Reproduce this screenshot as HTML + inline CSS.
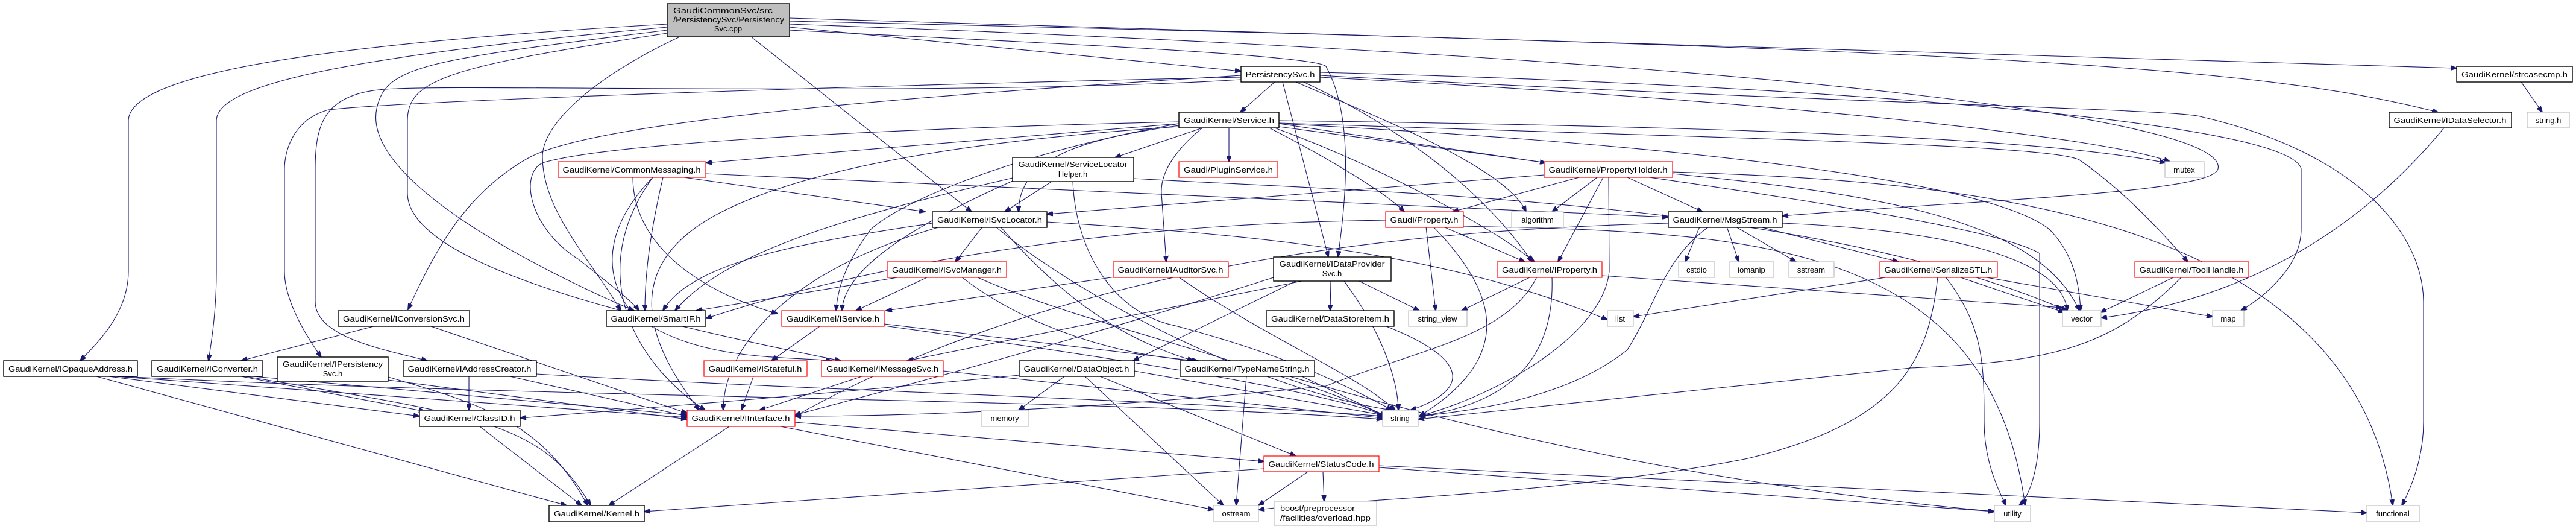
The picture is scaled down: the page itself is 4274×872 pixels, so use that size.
<!DOCTYPE html>
<html><head><meta charset="utf-8"><style>
html,body{margin:0;padding:0;background:#fff;}
svg{display:block;}
text{font-family:"Liberation Sans","DejaVu Sans",sans-serif;font-size:13px;fill:#000;}
.e{fill:none;stroke:#191970;stroke-width:1.1;marker-end:url(#a);}
.b{fill:#fff;stroke:#000;stroke-width:1.4;}
.r{fill:#fff;stroke:#ff0000;stroke-width:1.2;}
.g{fill:#fff;stroke:#bfbfbf;stroke-width:1.2;}
.m{fill:#bfbfbf;stroke:#000;stroke-width:1.4;}
</style></head><body>
<svg width="4274" height="872" viewBox="0 0 4274 872" xmlns="http://www.w3.org/2000/svg">
<defs><marker id="a" markerWidth="11" markerHeight="8" refX="10" refY="4" orient="auto" markerUnits="userSpaceOnUse"><path d="M0,0 L11,4 L0,8 z" fill="#191970" stroke="#191970"/></marker></defs>
<g>
<!-- main edges -->
<path class="e" d="M1107,40 C400,80 214,140 213,200 L213,450 C213,520 160,570 133,598"/>
<path class="e" d="M1107,45 C500,100 360,150 359,200 L359,450 C359,520 350,570 346,598"/>
<path class="e" d="M1245,60 L1612,351"/>
<path class="e" d="M1310,45 L2059,118"/>
<path class="e" d="M1107,50 C700,100 640,110 625,180 C600,300 900,450 1052,515"/>
<path class="e" d="M1107,55 C750,110 676,130 676,200 L676,320 C676,430 1000,520 1395,598"/>
<path class="e" d="M1310,50 C1700,70 2180,90 2200,110 C2250,200 2230,350 2220,426"/>
<path class="e" d="M1310,30 C2500,60 3500,90 4076,113"/>
<path class="e" d="M1310,35 C3300,80 3750,110 4045,186"/>
<path class="e" d="M1310,40 C3000,100 3700,200 3680,280 C3670,320 3300,330 2957,358"/>
<path class="e" d="M1130,60 C1000,120 900,200 900,260 C900,350 980,430 1030,515"/>
<!-- PersistencySvc -->
<path class="e" d="M2059,125 C1500,160 1000,200 880,260 C770,320 720,420 677,513"/>
<path class="e" d="M2059,128 C1500,140 700,165 545,182 C480,200 472,260 472,280 L472,450 C472,500 510,560 533,592"/>
<path class="e" d="M2059,132 C1600,160 800,140 658,147 C540,150 523,200 523,280 L523,500 C523,560 640,580 709,598"/>
<path class="e" d="M2115,136 L2058,186"/>
<path class="e" d="M2128,136 L2204,426"/>
<path class="e" d="M2163,136 C2300,200 2450,300 2542,434"/>
<path class="e" d="M2150,136 C2300,200 2500,280 2532,351"/>
<path class="e" d="M2190,120 C3000,140 3800,200 3818,280 L3818,380 C3818,440 3760,490 3718,515"/>
<path class="e" d="M2190,125 C3000,170 3600,180 3650,193 C3900,250 4020,380 4021,500 L4021,700 C4021,760 4000,810 3985,838"/>
<path class="e" d="M2190,128 C3000,170 3500,230 3600,268"/>
<!-- Service -->
<path class="e" d="M1956,205 L1171,270"/>
<path class="e" d="M1995,212 L1850,261"/>
<path class="e" d="M2039,212 L2039,268"/>
<path class="e" d="M2122,205 L2565,270"/>
<path class="e" d="M2106,212 C2200,260 2300,320 2330,351"/>
<path class="e" d="M2115,212 C2300,280 2480,380 2546,434"/>
<path class="e" d="M1956,208 C1800,230 1690,260 1690,351"/>
<path class="e" d="M1995,212 C1960,240 1925,280 1927,320 L1935,434"/>
<path class="e" d="M1956,205 C1700,250 1500,330 1445,380 C1400,440 1390,480 1387,515"/>
<path class="e" d="M1956,202 C1400,215 1000,240 900,270 C860,290 880,380 960,430 C1010,470 1050,500 1060,515"/>
<path class="e" d="M2122,200 C2900,210 3400,230 3593,270"/>
<path class="e" d="M2122,205 C2800,240 3300,300 3400,380 C3440,420 3450,470 3452,515"/>
<path class="e" d="M2122,204 C2900,230 3400,240 3450,265 C3530,320 3600,400 3630,434"/>
<path class="e" d="M2122,210 C2800,300 3300,370 3384,420 L3384,700 C3384,770 3370,820 3350,838"/>
<path class="e" d="M1956,210 C1500,240 1300,300 1200,350 C1000,450 1100,600 1160,680"/>
<!-- CommonMessaging -->
<path class="e" d="M1135,294 L1535,351"/>
<path class="e" d="M1100,294 C1080,380 1070,450 1070,515"/>
<path class="e" d="M1171,288 L2768,360"/>
<path class="e" d="M1083,294 C1000,380 1000,460 1050,520 C1150,600 1300,590 1380,598"/>
<path class="e" d="M1083,294 C970,450 1050,600 1170,680"/>
<path class="e" d="M1050,294 C1050,400 1150,480 1290,520"/>
<!-- ServiceLocatorHelper -->
<path class="e" d="M1745,301 L1667,351"/>
<path class="e" d="M1680,295 C1400,360 1200,420 1120,515"/>
<path class="e" d="M1680,300 C1500,380 1400,450 1397,515"/>
<path class="e" d="M1780,301 C1785,420 1850,520 1950,540 C2100,580 2200,620 2310,680"/>
<path class="e" d="M1881,296 C2300,320 3000,330 3430,515"/>
<!-- ISvcLocator -->
<path class="e" d="M1630,376 L1585,434"/>
<path class="e" d="M1547,370 C1350,400 1150,430 1100,515"/>
<path class="e" d="M1660,376 C1750,480 1850,560 1980,598"/>
<path class="e" d="M1652,376 C1800,500 2100,650 2310,680"/>
<path class="e" d="M1560,376 C1300,450 1200,580 1200,680"/>
<path class="e" d="M1737,368 C2100,390 2400,420 2667,530"/>
<!-- ISvcManager / IAuditorSvc -->
<path class="e" d="M1540,459 L1420,515"/>
<path class="e" d="M1495,459 L1155,515"/>
<path class="e" d="M1595,459 C1700,540 1850,590 1988,598"/>
<path class="e" d="M1620,459 C1800,540 2100,600 2300,690"/>
<path class="e" d="M1850,459 L1470,515"/>
<path class="e" d="M1955,459 C2100,560 2250,620 2315,680"/>
<!-- IService etc -->
<path class="e" d="M1360,541 L1280,598"/>
<path class="e" d="M1467,537 L1980,598"/>
<path class="e" d="M1467,540 C1900,600 2200,650 2300,690"/>
<path class="e" d="M1250,624 L1230,680"/>
<path class="e" d="M1430,624 L1260,680"/>
<path class="e" d="M1565,615 C1900,650 2100,670 2294,693"/>
<path class="e" d="M1691,622 C1300,660 900,690 863,693"/>
<path class="e" d="M1766,624 L1690,680"/>
<path class="e" d="M1825,624 L2150,756"/>
<path class="e" d="M1800,624 L2030,838"/>
<path class="e" d="M1882,615 L2294,688"/>
<path class="e" d="M2160,624 L2300,690"/>
<path class="e" d="M2068,624 L2051,838"/>
<path class="e" d="M2140,624 C2600,760 3000,820 3309,848"/>
<path class="e" d="M1319,700 L2097,765"/>
<path class="e" d="M1210,707 L1010,838"/>
<path class="e" d="M1295,707 L2014,845"/>
<path class="e" d="M2097,777 L1069,848"/>
<path class="e" d="M2170,782 L2088,838"/>
<path class="e" d="M2195,782 L2197,831"/>
<path class="e" d="M2288,775 L3309,848"/>
<path class="e" d="M2288,772 L3927,850"/>
<path class="e" d="M796,707 L965,838"/>
<path class="e" d="M160,624 L940,838"/>
<path class="e" d="M180,624 L696,690"/>
<path class="e" d="M190,624 L1140,692"/>
<path class="e" d="M200,624 C900,660 1800,660 2294,695"/>
<path class="e" d="M400,624 L705,682"/>
<path class="e" d="M407,624 C800,690 900,700 980,838"/>
<path class="e" d="M420,624 L1140,688"/>
<path class="e" d="M644,630 L1140,695"/>
<path class="e" d="M644,625 C800,670 900,700 975,838"/>
<path class="e" d="M778,624 L778,680"/>
<path class="e" d="M846,624 L1140,690"/>
<path class="e" d="M890,620 C1400,650 1900,660 2294,690"/>
<path class="e" d="M620,541 L400,598"/>
<path class="e" d="M715,541 L1140,685"/>
<!-- Property, PropertyHolder, MsgStream -->
<path class="e" d="M2366,376 L2382,515"/>
<path class="e" d="M2395,376 L2530,434"/>
<path class="e" d="M2378,376 C2500,500 2500,600 2355,690"/>
<path class="e" d="M2299,365 C1900,370 1500,420 1171,528"/>
<path class="e" d="M2428,375 C2900,385 3300,395 3360,838"/>
<path class="e" d="M2620,294 L2410,351"/>
<path class="e" d="M2650,294 L2575,351"/>
<path class="e" d="M2660,294 L2585,434"/>
<path class="e" d="M2700,294 L2825,351"/>
<path class="e" d="M2562,290 L1737,355"/>
<path class="e" d="M2669,294 L2670,450 C2660,550 2500,650 2355,690"/>
<path class="e" d="M2775,288 C3100,320 3380,360 3450,515"/>
<path class="e" d="M2775,285 C3200,300 3900,330 3970,838"/>
<path class="e" d="M2835,376 C2760,430 2750,500 2700,580 C2600,660 2450,680 2355,690"/>
<path class="e" d="M2820,376 L2796,434"/>
<path class="e" d="M2865,376 L2885,434"/>
<path class="e" d="M2880,376 L2980,434"/>
<path class="e" d="M2920,376 L3150,434"/>
<path class="e" d="M2768,370 C2400,380 1800,420 1319,690"/>
<path class="e" d="M2957,370 C3200,380 3420,420 3430,515"/>
<path class="e" d="M2540,459 L2425,515"/>
<path class="e" d="M2575,459 C2580,600 2500,670 2355,690"/>
<path class="e" d="M2550,459 C2500,560 2350,580 2200,640 C1800,680 1500,690 1319,690"/>
<path class="e" d="M2658,457 L3422,510"/>
<path class="e" d="M3135,459 L2710,525"/>
<path class="e" d="M3250,459 L3425,518"/>
<path class="e" d="M3290,459 L3671,525"/>
<path class="e" d="M3228,459 C3290,540 3292,600 3292,700 C3292,770 3320,820 3328,838"/>
<path class="e" d="M3215,459 C3200,600 3150,700 2900,760 C2600,820 2200,830 2088,845"/>
<path class="e" d="M3608,459 L3485,518"/>
<path class="e" d="M3620,459 C3500,580 3400,600 3170,610 L2353,695"/>
<path class="e" d="M4055,212 C3900,400 3700,500 3486,527"/>
<path class="e" d="M4183,136 L4218,186"/>
<path class="e" d="M2208,466 L2207,515"/>
<path class="e" d="M2255,466 L2355,515"/>
<path class="e" d="M2230,466 C2300,560 2320,640 2320,680"/>
<path class="e" d="M2150,466 L1880,598"/>
<path class="e" d="M2160,466 L1505,598"/>
<path class="e" d="M2113,460 C1800,560 1500,640 1319,688"/>
<path class="e" d="M2300,541 C2450,600 2430,650 2340,680"/>
</g>
<g>
<rect class="m" x="1107" y="6" width="203" height="55"/>
<text x="1117" y="22" textLength="165" lengthAdjust="spacingAndGlyphs">GaudiCommonSvc/src</text>
<text x="1117" y="37" textLength="184" lengthAdjust="spacingAndGlyphs">/PersistencySvc/Persistency</text>
<text x="1208" y="52" text-anchor="middle">Svc.cpp</text>
</g>
<g text-anchor="middle">
<rect class="b" x="2059" y="110" width="131" height="26"/><text x="2124" y="128" textLength="115" lengthAdjust="spacingAndGlyphs">PersistencySvc.h</text>
<rect class="b" x="1956" y="186" width="166" height="26"/><text x="2039" y="204" textLength="150" lengthAdjust="spacingAndGlyphs">GaudiKernel/Service.h</text>
<rect class="r" x="926" y="268" width="245" height="26"/><text x="1048" y="286" textLength="229" lengthAdjust="spacingAndGlyphs">GaudiKernel/CommonMessaging.h</text>
<rect class="b" x="1680" y="261" width="201" height="40"/><text x="1780" y="277" textLength="181" lengthAdjust="spacingAndGlyphs">GaudiKernel/ServiceLocator</text><text x="1780" y="293">Helper.h</text>
<rect class="r" x="1956" y="268" width="164" height="26"/><text x="2038" y="286" textLength="148" lengthAdjust="spacingAndGlyphs">Gaudi/PluginService.h</text>
<rect class="r" x="2562" y="268" width="213" height="26"/><text x="2668" y="286" textLength="197" lengthAdjust="spacingAndGlyphs">GaudiKernel/PropertyHolder.h</text>
<rect class="g" x="3592" y="268" width="65" height="26"/><text x="3624" y="286">mutex</text>
<rect class="b" x="1547" y="351" width="190" height="26"/><text x="1642" y="369" textLength="174" lengthAdjust="spacingAndGlyphs">GaudiKernel/ISvcLocator.h</text>
<rect class="r" x="2299" y="351" width="129" height="26"/><text x="2363" y="369" textLength="113" lengthAdjust="spacingAndGlyphs">Gaudi/Property.h</text>
<rect class="g" x="2508" y="351" width="86" height="26"/><text x="2551" y="369">algorithm</text>
<rect class="b" x="2768" y="351" width="189" height="26"/><text x="2862" y="369" textLength="173" lengthAdjust="spacingAndGlyphs">GaudiKernel/MsgStream.h</text>
<rect class="r" x="1472" y="434" width="198" height="26"/><text x="1571" y="452" textLength="182" lengthAdjust="spacingAndGlyphs">GaudiKernel/ISvcManager.h</text>
<rect class="r" x="1847" y="434" width="191" height="26"/><text x="1942" y="452" textLength="175" lengthAdjust="spacingAndGlyphs">GaudiKernel/IAuditorSvc.h</text>
<rect class="b" x="2113" y="426" width="195" height="40"/><text x="2210" y="442" textLength="175" lengthAdjust="spacingAndGlyphs">GaudiKernel/IDataProvider</text><text x="2210" y="458">Svc.h</text>
<rect class="r" x="2484" y="434" width="174" height="26"/><text x="2571" y="452" textLength="158" lengthAdjust="spacingAndGlyphs">GaudiKernel/IProperty.h</text>
<rect class="g" x="2785" y="434" width="60" height="26"/><text x="2815" y="452">cstdio</text>
<rect class="g" x="2870" y="434" width="73" height="26"/><text x="2906" y="452">iomanip</text>
<rect class="g" x="2968" y="434" width="75" height="26"/><text x="3005" y="452">sstream</text>
<rect class="r" x="3119" y="434" width="195" height="26"/><text x="3216" y="452" textLength="179" lengthAdjust="spacingAndGlyphs">GaudiKernel/SerializeSTL.h</text>
<rect class="r" x="3542" y="434" width="189" height="26"/><text x="3636" y="452" textLength="173" lengthAdjust="spacingAndGlyphs">GaudiKernel/ToolHandle.h</text>
<rect class="b" x="561" y="515" width="218" height="26"/><text x="670" y="533" textLength="202" lengthAdjust="spacingAndGlyphs">GaudiKernel/IConversionSvc.h</text>
<rect class="b" x="1006" y="515" width="165" height="26"/><text x="1088" y="533" textLength="149" lengthAdjust="spacingAndGlyphs">GaudiKernel/SmartIF.h</text>
<rect class="r" x="1297" y="515" width="170" height="26"/><text x="1382" y="533" textLength="154" lengthAdjust="spacingAndGlyphs">GaudiKernel/IService.h</text>
<rect class="b" x="2101" y="515" width="212" height="26"/><text x="2207" y="533" textLength="196" lengthAdjust="spacingAndGlyphs">GaudiKernel/DataStoreItem.h</text>
<rect class="g" x="2337" y="515" width="97" height="26"/><text x="2385" y="533">string_view</text>
<rect class="g" x="2667" y="515" width="43" height="26"/><text x="2688" y="533">list</text>
<rect class="g" x="3422" y="515" width="64" height="26"/><text x="3454" y="533">vector</text>
<rect class="g" x="3671" y="515" width="52" height="26"/><text x="3697" y="533">map</text>
<rect class="b" x="6" y="598" width="222" height="26"/><text x="117" y="616" textLength="206" lengthAdjust="spacingAndGlyphs">GaudiKernel/IOpaqueAddress.h</text>
<rect class="b" x="252" y="598" width="184" height="26"/><text x="344" y="616" textLength="168" lengthAdjust="spacingAndGlyphs">GaudiKernel/IConverter.h</text>
<rect class="b" x="460" y="592" width="184" height="40"/><text x="552" y="608" textLength="166" lengthAdjust="spacingAndGlyphs">GaudiKernel/IPersistency</text><text x="552" y="624">Svc.h</text>
<rect class="b" x="669" y="598" width="221" height="26"/><text x="779" y="616" textLength="205" lengthAdjust="spacingAndGlyphs">GaudiKernel/IAddressCreator.h</text>
<rect class="r" x="1168" y="598" width="171" height="26"/><text x="1253" y="616" textLength="155" lengthAdjust="spacingAndGlyphs">GaudiKernel/IStateful.h</text>
<rect class="r" x="1363" y="598" width="202" height="26"/><text x="1464" y="616" textLength="186" lengthAdjust="spacingAndGlyphs">GaudiKernel/IMessageSvc.h</text>
<rect class="b" x="1691" y="598" width="191" height="26"/><text x="1786" y="616" textLength="175" lengthAdjust="spacingAndGlyphs">GaudiKernel/DataObject.h</text>
<rect class="b" x="1958" y="598" width="223" height="26"/><text x="2069" y="616" textLength="207" lengthAdjust="spacingAndGlyphs">GaudiKernel/TypeNameString.h</text>
<rect class="b" x="696" y="680" width="167" height="27"/><text x="779" y="698" textLength="151" lengthAdjust="spacingAndGlyphs">GaudiKernel/ClassID.h</text>
<rect class="r" x="1140" y="680" width="179" height="27"/><text x="1229" y="698" textLength="163" lengthAdjust="spacingAndGlyphs">GaudiKernel/IInterface.h</text>
<rect class="g" x="1628" y="680" width="79" height="27"/><text x="1667" y="698">memory</text>
<rect class="g" x="2294" y="680" width="59" height="27"/><text x="2323" y="698">string</text>
<rect class="r" x="2097" y="756" width="191" height="26"/><text x="2192" y="774" textLength="175" lengthAdjust="spacingAndGlyphs">GaudiKernel/StatusCode.h</text>
<rect class="b" x="911" y="838" width="158" height="27"/><text x="990" y="856" textLength="142" lengthAdjust="spacingAndGlyphs">GaudiKernel/Kernel.h</text>
<rect class="g" x="2014" y="838" width="74" height="27"/><text x="2051" y="856">ostream</text>
<rect class="g" x="3309" y="838" width="60" height="27"/><text x="3339" y="856">utility</text>
<rect class="g" x="3927" y="838" width="87" height="27"/><text x="3970" y="856">functional</text>
<rect class="b" x="4076" y="110" width="192" height="26"/><text x="4172" y="128" textLength="176" lengthAdjust="spacingAndGlyphs">GaudiKernel/strcasecmp.h</text>
<rect class="b" x="3964" y="186" width="203" height="26"/><text x="4065" y="204" textLength="187" lengthAdjust="spacingAndGlyphs">GaudiKernel/IDataSelector.h</text>
<rect class="g" x="4193" y="186" width="70" height="26"/><text x="4228" y="204">string.h</text>
</g>
<g>
<rect class="g" x="2114" y="831" width="170" height="40"/>
<text x="2124" y="847" textLength="124" lengthAdjust="spacingAndGlyphs">boost/preprocessor</text>
<text x="2124" y="863" textLength="150" lengthAdjust="spacingAndGlyphs">/facilities/overload.hpp</text>
</g>
</svg>
</body></html>
